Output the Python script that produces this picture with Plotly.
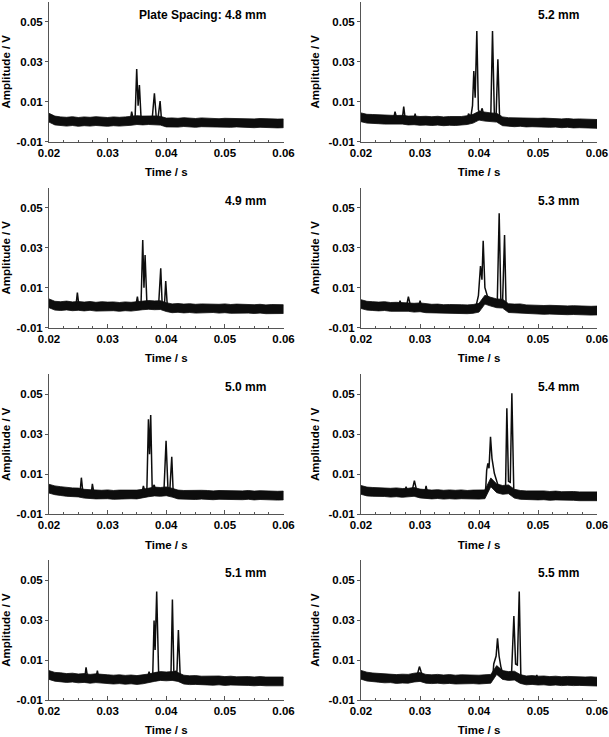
import plotly.graph_objects as go

# ---------------- data ----------------
T_GRID = [0.020, 0.021, 0.022, 0.023, 0.024, 0.025, 0.026, 0.027, 0.028, 0.029,
          0.030, 0.031, 0.032, 0.033, 0.034, 0.035, 0.036, 0.037, 0.038, 0.039,
          0.040, 0.041, 0.042, 0.043, 0.044, 0.045, 0.046, 0.047, 0.048, 0.049,
          0.050, 0.051, 0.052, 0.053, 0.054, 0.055, 0.056, 0.057, 0.058, 0.059, 0.060]

NOISE_HALF = 0.0022  # half peak-to-peak noise amplitude (V)

labels = ["Plate Spacing: 4.8 mm", "4.9 mm", "5.0 mm", "5.1 mm",
          "5.2 mm", "5.3 mm", "5.4 mm", "5.5 mm"]

base_48 = [0.0020, 0.0006, 0.0002, 0.0000, 0.0003, -0.0001, 0.0002, 0.0000, 0.0003, 0.0001,
           -0.0001, 0.0002, 0.0000, 0.0002, 0.0004, 0.0008, 0.0006, 0.0008, 0.0007, 0.0005,
           -0.0004, -0.0003, -0.0005, -0.0002, -0.0004, -0.0006, -0.0003, -0.0005, -0.0004, -0.0007,
           -0.0005, -0.0006, -0.0004, -0.0007, -0.0006, -0.0008, -0.0006, -0.0008, -0.0007, -0.0009, -0.0008]
base_49 = [0.0022, 0.0010, 0.0008, 0.0011, 0.0007, 0.0009, 0.0006, 0.0009, 0.0005, 0.0008,
           0.0006, 0.0007, 0.0004, 0.0007, 0.0005, 0.0009, 0.0012, 0.0014, 0.0012, 0.0013,
           0.0003, -0.0003, -0.0001, -0.0004, -0.0002, -0.0005, -0.0003, -0.0004, -0.0002, -0.0005,
           -0.0003, -0.0006, -0.0004, -0.0006, -0.0005, -0.0007, -0.0005, -0.0008, -0.0006, -0.0008, -0.0007]
base_50 = [0.0028, 0.0020, 0.0016, 0.0012, 0.0010, 0.0009, 0.0003, 0.0001, -0.0001, -0.0002,
           0.0000, -0.0003, -0.0001, -0.0002, 0.0000, -0.0001, 0.0003, 0.0010, 0.0014, 0.0012,
           0.0015, 0.0008, -0.0001, -0.0003, -0.0002, -0.0004, -0.0002, -0.0003, -0.0005, -0.0003,
           -0.0004, -0.0006, -0.0004, -0.0005, -0.0003, -0.0006, -0.0004, -0.0006, -0.0005, -0.0007, -0.0006]
base_51 = [0.0025, 0.0016, 0.0014, 0.0010, 0.0012, 0.0008, 0.0010, 0.0006, 0.0009, 0.0005,
           0.0004, 0.0002, 0.0004, 0.0001, 0.0003, 0.0000, 0.0003, 0.0008, 0.0015, 0.0020,
           0.0018, 0.0020, 0.0015, 0.0002, -0.0001, 0.0000, -0.0003, -0.0002, -0.0004, -0.0002,
           -0.0005, -0.0003, -0.0006, -0.0004, -0.0005, -0.0007, -0.0005, -0.0007, -0.0006, -0.0008, -0.0007]
base_52 = [0.0022, 0.0015, 0.0014, 0.0012, 0.0010, 0.0011, 0.0009, 0.0010, 0.0006, 0.0007,
           0.0004, 0.0005, 0.0003, 0.0005, 0.0002, 0.0004, 0.0003, 0.0004, 0.0008, 0.0015,
           0.0030, 0.0025, 0.0022, 0.0020, 0.0002, -0.0002, -0.0003, -0.0001, -0.0004, -0.0003,
           -0.0005, -0.0004, -0.0006, -0.0005, -0.0008, -0.0006, -0.0009, -0.0008, -0.0010, -0.0009, -0.0011]
base_53 = [0.0018, 0.0010, 0.0008, 0.0006, 0.0008, 0.0004, 0.0005, 0.0003, 0.0004, 0.0000,
           0.0002, -0.0003, -0.0005, -0.0004, -0.0007, -0.0006, -0.0008, -0.0007, -0.0008, -0.0006,
           0.0000, 0.0040, 0.0030, 0.0022, 0.0020, -0.0002, -0.0004, -0.0003, -0.0008, -0.0010,
           -0.0009, -0.0011, -0.0010, -0.0012, -0.0011, -0.0013, -0.0012, -0.0014, -0.0013, -0.0015, -0.0014]
base_54 = [0.0022, 0.0014, 0.0012, 0.0010, 0.0011, 0.0008, 0.0010, 0.0007, 0.0008, 0.0012,
           0.0004, 0.0002, -0.0001, 0.0001, -0.0002, 0.0000, -0.0002, 0.0000, -0.0003, -0.0001,
           -0.0002, 0.0000, 0.0060, 0.0030, 0.0022, 0.0025, 0.0003, -0.0003, -0.0005, -0.0004,
           -0.0006, -0.0005, -0.0008, -0.0006, -0.0009, -0.0007, -0.0008, -0.0010, -0.0009, -0.0011, -0.0010]
base_55 = [0.0026, 0.0017, 0.0013, 0.0011, 0.0008, 0.0009, 0.0005, 0.0007, 0.0006, 0.0012,
           0.0015, 0.0006, 0.0004, 0.0006, 0.0003, 0.0005, 0.0002, 0.0004, 0.0003, 0.0004,
           0.0002, 0.0004, 0.0006, 0.0050, 0.0025, 0.0020, 0.0022, 0.0005, -0.0002, 0.0000,
           -0.0003, -0.0002, -0.0005, -0.0003, -0.0006, -0.0004, -0.0006, -0.0005, -0.0007, -0.0006, -0.0008]

# spike / peak segments (None separates segments)
pk_t_48 = [0.0339, 0.0341, 0.03435, 0.0347, 0.03496, 0.0352, 0.03542, 0.0357, 0.0361,
           0.0376, 0.03798, 0.0383, 0.0386, 0.03895, 0.0392]
pk_v_48 = [0.0010, 0.0050, 0.0015, 0.0030, 0.0263, 0.0080, 0.0183, 0.0020, 0.0012,
           0.0015, 0.0142, 0.0020, 0.0018, 0.0103, 0.0005]

pk_t_49 = [0.0246, 0.02484, 0.0251, None, 0.0348, 0.03508, 0.0353, 0.0357, 0.03599, 0.0362,
           0.03639, 0.0367, 0.0387, 0.03906, 0.0393, 0.0397, 0.03991, 0.0402]
pk_v_49 = [0.0010, 0.0075, 0.0010, None, 0.0010, 0.0055, 0.0012, 0.0020, 0.0338, 0.0100,
           0.0263, 0.0020, 0.0015, 0.0197, 0.0020, 0.0015, 0.0133, 0.0000]

pk_t_50 = [0.0253, 0.02552, 0.0258, None, 0.0272, 0.0274, 0.0277, None,
           0.0358, 0.0361, 0.0364, 0.0367, 0.03696, 0.03715, 0.03735, 0.0376, 0.03795, 0.0382,
           0.0396, 0.03997, 0.0403, 0.0406, 0.04094, 0.0412]
pk_v_50 = [0.0010, 0.0083, 0.0005, None, 0.0002, 0.0052, 0.0000, None,
           0.0000, 0.0042, 0.0010, 0.0030, 0.0375, 0.0200, 0.0397, 0.0030, 0.0047, 0.0015,
           0.0012, 0.0268, 0.0020, 0.0015, 0.0188, -0.0002]

pk_t_51 = [0.0261, 0.02632, 0.0266, None, 0.0280, 0.02825, 0.0285, None,
           0.0368, 0.03707, 0.0373, 0.0377, 0.03792, 0.0381, 0.03837, 0.0387, 0.0391,
           0.0408, 0.04105, 0.0413, 0.0416, 0.0418, 0.04207, 0.0424]
pk_v_51 = [0.0010, 0.0063, 0.0010, None, 0.0008, 0.0047, 0.0008, None,
           0.0008, 0.0042, 0.0015, 0.0030, 0.0297, 0.0150, 0.0442, 0.0033, 0.0020,
           0.0020, 0.0403, 0.0030, 0.0045, 0.0020, 0.0250, 0.0003]

pk_t_52 = [0.0255, 0.02577, 0.0261, None, 0.0270, 0.02724, 0.0275, None, 0.0290, 0.02917, 0.0294, None,
           0.0380, 0.03822, 0.0386, 0.0389, 0.03912, 0.03935, 0.03963, 0.0399, 0.0402, 0.04054, 0.0408,
           0.0420, 0.04229, 0.0426, 0.0429, 0.0432, 0.0435]
pk_v_52 = [0.0012, 0.0050, 0.0012, None, 0.0012, 0.0075, 0.0010, None, 0.0008, 0.0040, 0.0008, None,
           0.0010, 0.0040, 0.0020, 0.0080, 0.0253, 0.0120, 0.0453, 0.0060, 0.0040, 0.0067, 0.0030,
           0.0030, 0.0453, 0.0040, 0.0030, 0.0312, 0.0010]

pk_t_53 = [0.0264, 0.02662, 0.0269, None, 0.0277, 0.02803, 0.0283, 0.0286, None, 0.0298, 0.03001, 0.0303, None,
           0.0394, 0.03963, 0.0399, 0.04025, 0.0405, 0.04071, 0.0410, 0.0414, 0.0418, 0.0421,
           0.0431, 0.04342, 0.0437, 0.0440, 0.04433, 0.0446]
pk_v_53 = [0.0005, 0.0035, 0.0005, None, 0.0005, 0.0055, 0.0020, 0.0005, None, 0.0000, 0.0035, 0.0000, None,
           -0.0005, 0.0020, 0.0060, 0.0208, 0.0140, 0.0335, 0.0100, 0.0060, 0.0045, 0.0030,
           0.0030, 0.0472, 0.0040, 0.0030, 0.0363, 0.0000]

pk_t_54 = [0.0274, 0.02764, 0.0279, None, 0.0286, 0.02905, 0.0295, None, 0.0308, 0.03103, 0.0313, None,
           0.0410, 0.04116, 0.0413, 0.0415, 0.0417, 0.04195, 0.0422, 0.0426, 0.0432, 0.0440,
           0.0445, 0.04472, 0.0450, 0.0453, 0.04557, 0.0459, 0.0463]
pk_v_54 = [0.0010, 0.0038, 0.0008, None, 0.0010, 0.0068, 0.0010, None, 0.0005, 0.0042, 0.0002, None,
           0.0000, 0.0040, 0.0120, 0.0155, 0.0130, 0.0288, 0.0180, 0.0105, 0.0047, 0.0030,
           0.0030, 0.0430, 0.0065, 0.0060, 0.0505, 0.0013, 0.0000]

pk_t_55 = [0.0283, 0.02849, 0.0287, None, 0.0294, 0.0297, 0.0299, 0.0302, 0.0306, None,
           0.0421, 0.04235, 0.0425, 0.04269, 0.0429, 0.04314, 0.0434, 0.0437, 0.0442,
           0.0455, 0.04591, 0.0462, 0.0465, 0.04682, 0.0471, None, 0.0496, 0.0498, 0.0500]
pk_v_55 = [0.0008, 0.0028, 0.0008, None, 0.0010, 0.0050, 0.0067, 0.0040, 0.0010, None,
           0.0005, 0.0020, 0.0080, 0.0108, 0.0120, 0.0208, 0.0120, 0.0067, 0.0017,
           0.0020, 0.0320, 0.0080, 0.0075, 0.0442, 0.0008, None, 0.0003, 0.0025, 0.0000]

x_tickvals = [0.02, 0.03, 0.04, 0.05, 0.06]
x_ticktext = ["0.02", "0.03", "0.04", "0.05", "0.06"]
y_tickvals = [-0.01, 0.01, 0.03, 0.05]
y_ticktext = ["-0.01", "0.01", "0.03", "0.05"]

panels = [
    (base_48, pk_t_48, pk_v_48), (base_49, pk_t_49, pk_v_49),
    (base_50, pk_t_50, pk_v_50), (base_51, pk_t_51, pk_v_51),
    (base_52, pk_t_52, pk_v_52), (base_53, pk_t_53, pk_v_53),
    (base_54, pk_t_54, pk_v_54), (base_55, pk_t_55, pk_v_55),
]

# ---------------- layout geometry ----------------
W, H = 609, 737
col_px = [(49, 283.5), (361, 597)]
row_px = [(1.7, 141.7), (187.7, 327.7), (374.3, 514.3), (560, 700)]

FONT = "Liberation Sans, Arial, sans-serif"
FS = 11.5

fig = go.Figure()
layout = dict(
    template="none",
    width=W, height=H, margin=dict(l=0, r=0, t=0, b=0, pad=0),
    paper_bgcolor="white", plot_bgcolor="white", showlegend=False,
    font=dict(family=FONT, size=FS, color="black"),
)
annotations = []

for i, (base, pkt, pkv) in enumerate(panels):
    col = i // 4
    row = i % 4
    n = i + 1
    xa = "x" if n == 1 else f"x{n}"
    ya = "y" if n == 1 else f"y{n}"
    xk = "xaxis" if n == 1 else f"xaxis{n}"
    yk = "yaxis" if n == 1 else f"yaxis{n}"

    upper = [b + NOISE_HALF for b in base]
    lower = [b - NOISE_HALF for b in base]
    fig.add_trace(go.Scatter(
        x=T_GRID + T_GRID[::-1], y=upper + lower[::-1],
        fill="toself", fillcolor="#0d0d0d", mode="lines",
        line=dict(color="#0d0d0d", width=0.8), xaxis=xa, yaxis=ya, hoverinfo="skip"))
    fig.add_trace(go.Scatter(
        x=pkt, y=pkv, mode="lines", connectgaps=False,
        line=dict(color="#0d0d0d", width=1.5), xaxis=xa, yaxis=ya))

    x0, x1 = col_px[col]
    y0, y1 = row_px[row]
    layout[xk] = dict(
        domain=[x0 / W, x1 / W], anchor=ya, range=[0.02, 0.06], automargin=False,
        tickvals=x_tickvals, ticktext=x_ticktext,
        ticks="inside", ticklen=4, tickcolor="#555", tickwidth=1,
        minor=dict(ticks="inside", ticklen=2, dtick=0.0025, tick0=0.02, tickcolor="#555"),
        showline=True, linecolor="#555", linewidth=1, mirror=False,
        showgrid=False, zeroline=False,
        tickfont=dict(family=FONT, size=FS, weight="bold"),
        title=dict(text="Time / s", font=dict(family=FONT, size=FS, weight="bold"), standoff=10),
    )
    layout[yk] = dict(
        domain=[1 - y1 / H, 1 - y0 / H], anchor=xa, range=[-0.01, 0.06], automargin=False,
        tickvals=y_tickvals, ticktext=y_ticktext,
        ticks="outside", ticklen=3, tickcolor="#555", tickwidth=1,
        showline=True, linecolor="#555", linewidth=1, mirror=False,
        showgrid=False, zeroline=False,
        tickfont=dict(family=FONT, size=FS, weight="bold"),
        title=dict(text="Amplitude / V", font=dict(family=FONT, size=FS, weight="bold"), standoff=6),
    )
    annotations.append(dict(
        text=labels[i], xref=f"{xa} domain", yref=f"{ya} domain",
        x=1, y=1, xanchor="right", yanchor="middle", xshift=-16, yshift=-13,
        showarrow=False, font=dict(family=FONT, size=12, weight="bold", color="black")))

layout["annotations"] = annotations
fig.update_layout(**layout)
fig.write_html("out.html", config={"displayModeBar": False},
               post_script="document.body.style.margin='0';document.body.style.overflow='hidden';")
